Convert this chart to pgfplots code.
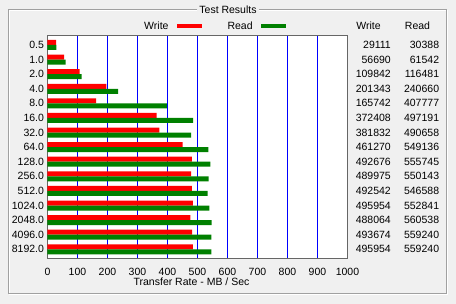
\documentclass[border=0pt]{standalone}
\usepackage{pgfplots}
\usepackage{pgfplotstable}
\usepackage{fontspec}
\setmainfont{Liberation Sans}
\pgfplotsset{compat=1.18}
\definecolor{bg}{HTML}{F0F0F0}
\definecolor{frame}{HTML}{A0A0A0}
\definecolor{wr}{HTML}{FF0000}
\definecolor{rd}{HTML}{008000}
\definecolor{gridblue}{rgb}{0,0,1}
\pgfplotstableread{
idx size write read
14 0.5 29111 30388
13 1.0 56690 61542
12 2.0 109842 116481
11 4.0 201343 240660
10 8.0 165742 407777
9 16.0 372408 497191
8 32.0 381832 490658
7 64.0 461270 549136
6 128.0 492676 555745
5 256.0 489975 550143
4 512.0 492542 546588
3 1024.0 495954 552841
2 2048.0 488064 560538
1 4096.0 493674 559240
0 8192.0 495954 559240
}\data
\begin{document}
\begin{tikzpicture}[font=\fontsize{10.5bp}{12bp}\selectfont]
% background and group frame (canvas: x = px-47.5, y = 258.5-py)
\fill[bg] (-47.5bp,-45.5bp) rectangle (408.5bp,258.5bp);
\draw[white, line width=1bp] (-38bp,248bp) rectangle (400bp,-36bp);
\draw[frame, line width=1bp] (-39bp,249bp) rectangle (399bp,-35bp);
\node[fill=bg, inner xsep=2bp, inner ysep=1bp] at (180.5bp,249bp) {Test Results};
\node at (321bp,233bp) {Write};
\node at (370bp,233bp) {Read};
\begin{axis}[
  at={(0,0)}, anchor=south west,
  scale only axis, width=300bp, height=223bp,
  xmin=0, xmax=1000, ymin=-0.63, ymax=14.65,
  clip=false,
  axis background/.style={fill=white},
  axis line style={draw=black!60, line width=1bp},
  xtick={0,100,...,1000},
  ytick={0,...,14},
  yticklabels={8192.0,4096.0,2048.0,1024.0,512.0,256.0,128.0,64.0,32.0,16.0,8.0,4.0,2.0,1.0,0.5},
  major tick length=0pt,
  tick style={draw=none},
  xmajorgrids=true, ymajorgrids=false,
  every axis grid/.style={},
  major grid style={draw=gridblue, line width=1bp},
  /pgf/number format/assume math mode=true,
  /pgf/number format/1000 sep={},
  xticklabel style={yshift=-6.5bp},
  xlabel={Transfer Rate - MB / Sec},
  xlabel style={at={(axis description cs:0.48,0)}, anchor=north, yshift=-19.5bp, inner sep=0pt},
  legend plot pos=right,
  legend columns=2,
  legend style={draw=none, fill=none, inner sep=0pt, at={(rel axis cs:0.3217,1.0426)}, anchor=west,
    column sep=8bp, nodes={inner sep=0pt}},
  /tikz/every even column/.append style={column sep=26bp},
]
\addplot[xbar, bar width=5bp, bar shift=2.5bp, fill=wr, draw=none,
  legend image code/.code={\fill[wr] (0bp,-2bp) rectangle (25bp,2bp);}]
  table[x expr=\thisrow{write}/1024, y=idx] {\data};
\addlegendentry{Write}
\addplot[xbar, bar width=5bp, bar shift=-2.5bp, fill=rd, draw=none,
  legend image code/.code={\fill[rd] (0bp,-2bp) rectangle (25bp,2bp);}]
  table[x expr=\thisrow{read}/1024, y=idx] {\data};
\addlegendentry{Read}
\addplot[draw=none, mark=none, forget plot, nodes near coords, point meta=explicit symbolic,
  nodes near coords style={anchor=east, inner sep=0pt}]
  table[x expr=1145, y=idx, meta=write] {\data};
\addplot[draw=none, mark=none, forget plot, nodes near coords, point meta=explicit symbolic,
  nodes near coords style={anchor=east, inner sep=0pt}]
  table[x expr=1306, y=idx, meta=read] {\data};
\end{axis}
\pgfresetboundingbox
\path (-47.5bp,-45.5bp) rectangle (408.5bp,258.5bp);
\end{tikzpicture}
\end{document}
